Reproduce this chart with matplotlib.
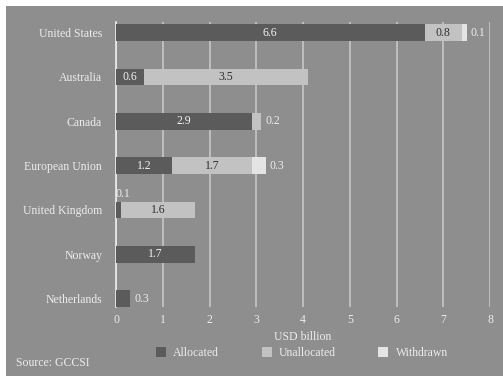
import matplotlib
matplotlib.use("Agg")
import matplotlib.pyplot as plt
from matplotlib.patches import Rectangle, Patch
import numpy as np

countries = ['United States', 'Australia', 'Canada', 'European Union',
             'United Kingdom', 'Norway', 'Netherlands']
allocated = [6.6, 0.6, 2.9, 1.2, 0.1, 1.7, 0.3]
unallocated = [0.8, 3.5, 0.2, 1.7, 1.6, 0.0, 0.0]
withdrawn = [0.1, 0.0, 0.0, 0.3, 0.0, 0.0, 0.0]
series_names = ['Allocated', 'Unallocated', 'Withdrawn']
xticks = [0, 1, 2, 3, 4, 5, 6, 7, 8]

BG = '#8e8e8e'
colors = ['#5b5b5b', '#c2c2c2', '#e4e4e4']
text_in = ['#f2f2f2', '#2e2e2e', '#2e2e2e']
LIGHT = '#ececec'
FONT = 'Liberation Serif'
FS = 8.5

plt.rcParams['font.family'] = [FONT, 'DejaVu Serif']

fig = plt.figure(figsize=(5.03, 3.76), dpi=100)
fig.patch.set_facecolor('white')
fig.patches.append(Rectangle((6 / 503, 0), 1 - 6 / 503, 1 - 6 / 376,
                             transform=fig.transFigure, facecolor=BG,
                             edgecolor='none', zorder=-10))

ax = fig.add_axes([116 / 503, 1 - 307 / 376, (490 - 116) / 503, (307 - 22) / 376])
ax.set_facecolor('none')

y = np.arange(len(countries))
h = 0.38
data = [allocated, unallocated, withdrawn]
left = np.zeros(len(countries))
totals = np.array(allocated) + np.array(unallocated) + np.array(withdrawn)

for si, vals in enumerate(data):
    vals = np.array(vals)
    ax.barh(y, vals, left=left, height=h, color=colors[si], edgecolor='none',
            zorder=3, label=series_names[si])
    for i, v in enumerate(vals):
        if v <= 0:
            continue
        is_last = all(data[k][i] == 0 for k in range(si + 1, 3))
        if v >= 0.5:
            ax.text(left[i] + v / 2, y[i], f'{v:.1f}', ha='center', va='center',
                    color=text_in[si], fontsize=FS, zorder=5)
        elif is_last:
            ax.annotate(f'{v:.1f}', (totals[i], y[i]), xytext=(3, 0),
                        textcoords='offset points', ha='left', va='center',
                        color=LIGHT, fontsize=FS, zorder=5)
        else:
            ax.annotate(f'{v:.1f}', (left[i], y[i] - h / 2), xytext=(0, 1),
                        textcoords='offset points', ha='left', va='bottom',
                        color=LIGHT, fontsize=FS, zorder=5)
    left = left + vals

ax.set_xlim(0, 8)
ax.set_ylim(6.19, -0.24)
ax.set_xticks(xticks)
ax.set_xticklabels([str(t) for t in xticks])
ax.set_yticks(y)
ax.set_yticklabels(countries)
ax.tick_params(axis='both', length=0, labelsize=FS, colors=LIGHT)
ax.tick_params(axis='x', pad=5)
ax.tick_params(axis='y', pad=10)
ax.xaxis.grid(True, color='#cccccc', linewidth=1.1, zorder=0)
ax.set_axisbelow(True)
for s in ['top', 'right', 'bottom']:
    ax.spines[s].set_visible(False)
ax.spines['left'].set_color('#eeeeee')
ax.spines['left'].set_linewidth(1.2)

ax.set_xlabel('USD billion', color=LIGHT, fontsize=FS, labelpad=4)

handles = [Patch(facecolor=c, edgecolor='none') for c in colors]
fig.legend(handles, series_names, loc='center', bbox_to_anchor=(302 / 503, 1 - 353 / 376),
           ncol=3, frameon=False, fontsize=FS, labelcolor=LIGHT,
           handlelength=0.85, handleheight=0.85, handletextpad=0.6,
           columnspacing=3.6)

fig.text(16 / 503, 1 - 363 / 376, 'Source: GCCSI', color=LIGHT, fontsize=FS,
         ha='left', va='center')

fig.savefig('out.png', dpi=100, facecolor=fig.get_facecolor())
